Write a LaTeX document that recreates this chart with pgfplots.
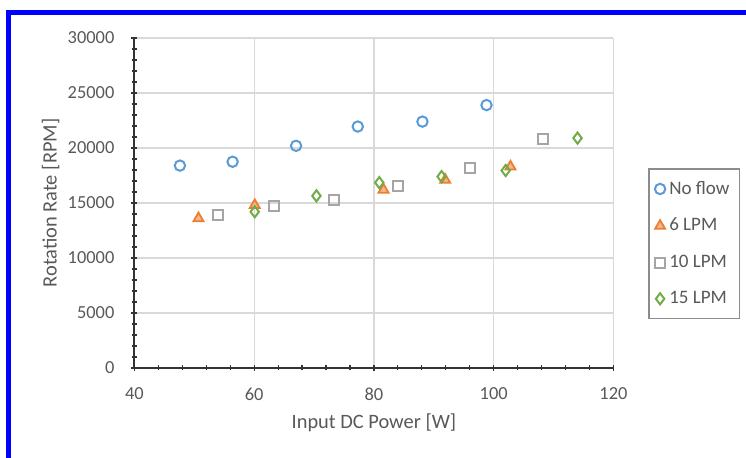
\documentclass[border=0pt]{standalone}
\usepackage{pgfplots}
\pgfplotsset{compat=1.18}
\usepackage{pgfplotstable}
\usepackage{fontspec}
\setmainfont{Carlito}
\definecolor{txt}{HTML}{595959}
\definecolor{cblue}{HTML}{5B9BD5}
\definecolor{corange}{HTML}{ED7D31}
\definecolor{cgrey}{HTML}{A5A5A5}
\definecolor{cgreen}{HTML}{70AD47}
\definecolor{gridc}{HTML}{D9D9D9}

\pgfplotstableread{
x y
47.6 18400
56.4 18750
67.0 20200
77.3 21950
88.1 22400
98.8 23900
}\noflow
\pgfplotstableread{
x y
50.7 13600
60.1 14800
81.6 16200
91.9 17100
102.8 18300
}\sixlpm
\pgfplotstableread{
x y
54.0 13900
63.3 14750
73.4 15300
84.1 16550
96.0 18200
108.2 20800
}\tenlpm
\pgfplotstableread{
x y
60.1 14200
70.4 15650
80.9 16850
91.3 17400
102.0 17950
114.0 20900
}\fifteenlpm

\begin{document}
\begin{tikzpicture}
\path[use as bounding box] (0,0) rectangle (373pt,229pt);
\fill[white] (0,0) rectangle (373pt,229pt);
\draw[color={rgb,255:red,0;green,0;blue,255}, line width=2.5pt, line join=miter]
  (4.25pt,0) -- (4.25pt,222.75pt) -- (373pt,222.75pt);
\begin{axis}[
  at={(67.2pt,45pt)}, anchor=south west,
  scale only axis,
  width=239.55pt, height=165pt,
  xmin=40, xmax=120, ymin=0, ymax=30000,
  xtick={40,60,80,100,120},
  ytick={0,5000,10000,15000,20000,25000,30000},
  minor x tick num=4, minor y tick num=4,
  axis lines=left,
  axis line style={-, draw=black!80, line width=0.9pt},
  tick align=center,
  major tick length=3pt, minor tick length=2.5pt,
  every tick/.style={black!80, line width=0.6pt},
  grid=major,
  major grid style={gridc, line width=0.6pt},
  scaled y ticks=false,
  /pgf/number format/assume math mode=true,
  yticklabel={\pgfmathprintnumber[fixed,1000 sep={}]{\tick}},
  ticklabel style={font=\fontsize{9.2}{11}\selectfont, text=txt},
  xticklabel style={yshift=-5pt},
  yticklabel style={xshift=-5pt},
  xlabel={Input DC Power [W]},
  ylabel={Rotation Rate [RPM]},
  label style={font=\fontsize{10.2}{12}\selectfont, text=txt},
  xlabel style={at={(axis description cs:0.5,-0.167)}, anchor=center},
  ylabel style={at={(axis description cs:-0.175,0.5)}, anchor=center, rotate=0},
  legend style={at={(axis description cs:1.0727,0.605)}, anchor=north west,
    draw=black!45, line width=0.6pt, font=\fontsize{9.5}{11}\selectfont, text=txt,
    row sep=6.5pt, inner xsep=3pt, inner ysep=4pt},
  legend cell align=left,
  clip=false,
]
\addplot[only marks, mark=o, mark size=2.6pt, mark options={draw=cblue, line width=1pt}] table {\noflow};
\addlegendentry{No flow}
\addplot[only marks, mark=triangle*, mark size=2.9pt, mark options={draw=corange, fill=corange!55, line width=0.9pt}] table {\sixlpm};
\addlegendentry{6 LPM}
\addplot[only marks, mark=square, mark size=2.5pt, mark options={draw=cgrey, line width=1pt}] table {\tenlpm};
\addlegendentry{10 LPM}
\addplot[only marks, mark=diamond, mark size=2.8pt, mark options={draw=cgreen, line width=1pt}] table {\fifteenlpm};
\addlegendentry{15 LPM}
\end{axis}
\end{tikzpicture}
\end{document}
